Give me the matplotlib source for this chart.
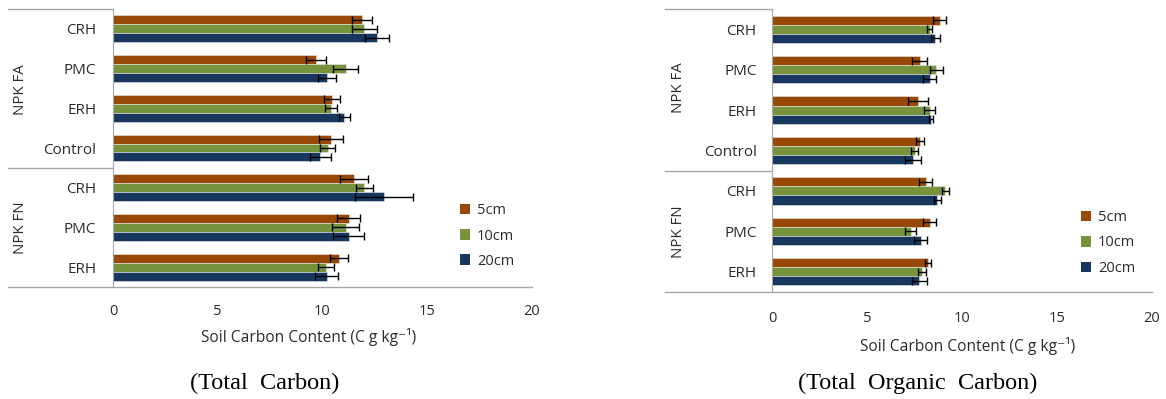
import matplotlib
matplotlib.use("Agg")
import matplotlib.pyplot as plt
from matplotlib.patches import Patch

# categories, top to bottom
groups = ["NPK FA", "NPK FN"]
categories = ["CRH", "PMC", "ERH", "Control", "CRH", "PMC", "ERH"]
depths = ["5cm", "10cm", "20cm"]

# Total carbon (C g kg-1), order follows categories
tc_5 = [11.9, 9.7, 10.45, 10.4, 11.5, 11.25, 10.8]
tc_10 = [12.0, 11.1, 10.4, 10.25, 12.0, 11.1, 10.15]
tc_20 = [12.6, 10.2, 11.05, 9.9, 12.95, 11.25, 10.2]
tc_5_err = [0.47, 0.47, 0.4, 0.59, 0.66, 0.54, 0.43]
tc_10_err = [0.58, 0.6, 0.3, 0.35, 0.4, 0.66, 0.38]
tc_20_err = [0.59, 0.43, 0.26, 0.5, 1.38, 0.75, 0.56]

# Total organic carbon
toc_5 = [8.83, 7.78, 7.69, 7.8, 8.1, 8.3, 8.2]
toc_10 = [8.3, 8.64, 8.3, 7.5, 9.12, 7.3, 7.88]
toc_20 = [8.6, 8.3, 8.37, 7.42, 8.7, 7.82, 7.76]
toc_5_err = [0.34, 0.4, 0.54, 0.2, 0.34, 0.33, 0.17]
toc_10_err = [0.14, 0.35, 0.3, 0.19, 0.18, 0.3, 0.2]
toc_20_err = [0.24, 0.33, 0.11, 0.4, 0.2, 0.33, 0.4]

colors = ["#984807", "#77933C", "#17375E"]
line_c = "#A6A6A6"
txt_c = "#2b2b2b"
W, H = 1166, 399
sans = ["Open Sans", "DejaVu Sans"]

fig = plt.figure(figsize=(W / 100, H / 100), dpi=100)


def px(x, y):
    return x / W, 1 - y / H


def panel(x0, x1, y0, y1, xline0, vals, errs, tick_pad, cat_pad,
          grp_x, grp_y, leg_xy, xlabel_xy, caption, cap_xy):
    ax = fig.add_axes([x0 / W, 1 - y1 / H, (x1 - x0) / W, (y1 - y0) / H])
    n = len(categories)
    h = 0.225
    for j, (v, e) in enumerate(zip(vals, errs)):
        ys = [i + (j - 1) * h for i in range(n)]
        ax.barh(ys, v, height=h, color=colors[j], edgecolor="#e8e8e8",
                linewidth=0.4, xerr=e, error_kw=dict(ecolor="black", elinewidth=1,
                                                      capsize=3, capthick=1))
    ax.set_ylim(n - 0.5, -0.5)
    ax.set_xlim(0, 20)
    for s in ["top", "right", "bottom"]:
        ax.spines[s].set_visible(False)
    ax.spines["left"].set_color(line_c)
    ax.set_xticks([0, 5, 10, 15, 20])
    ax.tick_params(axis="x", length=0, pad=tick_pad, labelsize=10.5, labelcolor=txt_c)
    ax.set_yticks(range(n))
    ax.set_yticklabels(categories)
    ax.tick_params(axis="y", length=0, pad=cat_pad, labelsize=11, labelcolor=txt_c)
    for lab in ax.get_xticklabels() + ax.get_yticklabels():
        lab.set_family(sans)

    # outline lines of the category table
    f0 = (xline0 - x0) / (x1 - x0)
    for yy, xe in [(1.0, 0.0), (3.0 / 7.0, 0.0), (0.0, 1.0)]:
        ax.plot([f0, xe], [yy, yy], transform=ax.transAxes, color=line_c,
                lw=1, clip_on=False)
    for g, gy in zip(groups, grp_y):
        fig.text(*px(grp_x, gy), g, rotation=90, ha="center", va="center",
                 fontsize=10.8, color=txt_c, family=sans)

    handles = [Patch(facecolor=c, edgecolor="none", label=d) for c, d in zip(colors, depths)]
    ax.legend(handles=handles, loc="center left", bbox_to_anchor=px(*leg_xy),
              bbox_transform=fig.transFigure, frameon=False,
              handlelength=0.7, handleheight=0.7, handletextpad=0.45,
              labelspacing=0.7, labelcolor=txt_c, prop=dict(family=sans, size=10.5))
    fig.text(*px(*xlabel_xy), "Soil Carbon Content (C g kg\u207b\u00b9)", ha="center",
             va="center", fontsize=11.2, color=txt_c, family=sans)
    fig.text(*px(*cap_xy), caption, ha="center", va="center", fontsize=17.5,
             family="Liberation Serif", color="black")
    return ax


panel(113, 532, 9, 287, 8, [tc_5, tc_10, tc_20], [tc_5_err, tc_10_err, tc_20_err],
      tick_pad=12, cat_pad=12, grp_x=20, grp_y=[90, 228], leg_xy=(447, 236),
      xlabel_xy=(309, 337), caption="(Total  Carbon)", cap_xy=(265, 383))
panel(772, 1152, 9, 292, 665, [toc_5, toc_10, toc_20], [toc_5_err, toc_10_err, toc_20_err],
      tick_pad=14, cat_pad=11, grp_x=678, grp_y=[88, 232], leg_xy=(1068, 243),
      xlabel_xy=(968, 346), caption="(Total  Organic  Carbon)", cap_xy=(918, 383))

fig.savefig("out.png", dpi=100)
